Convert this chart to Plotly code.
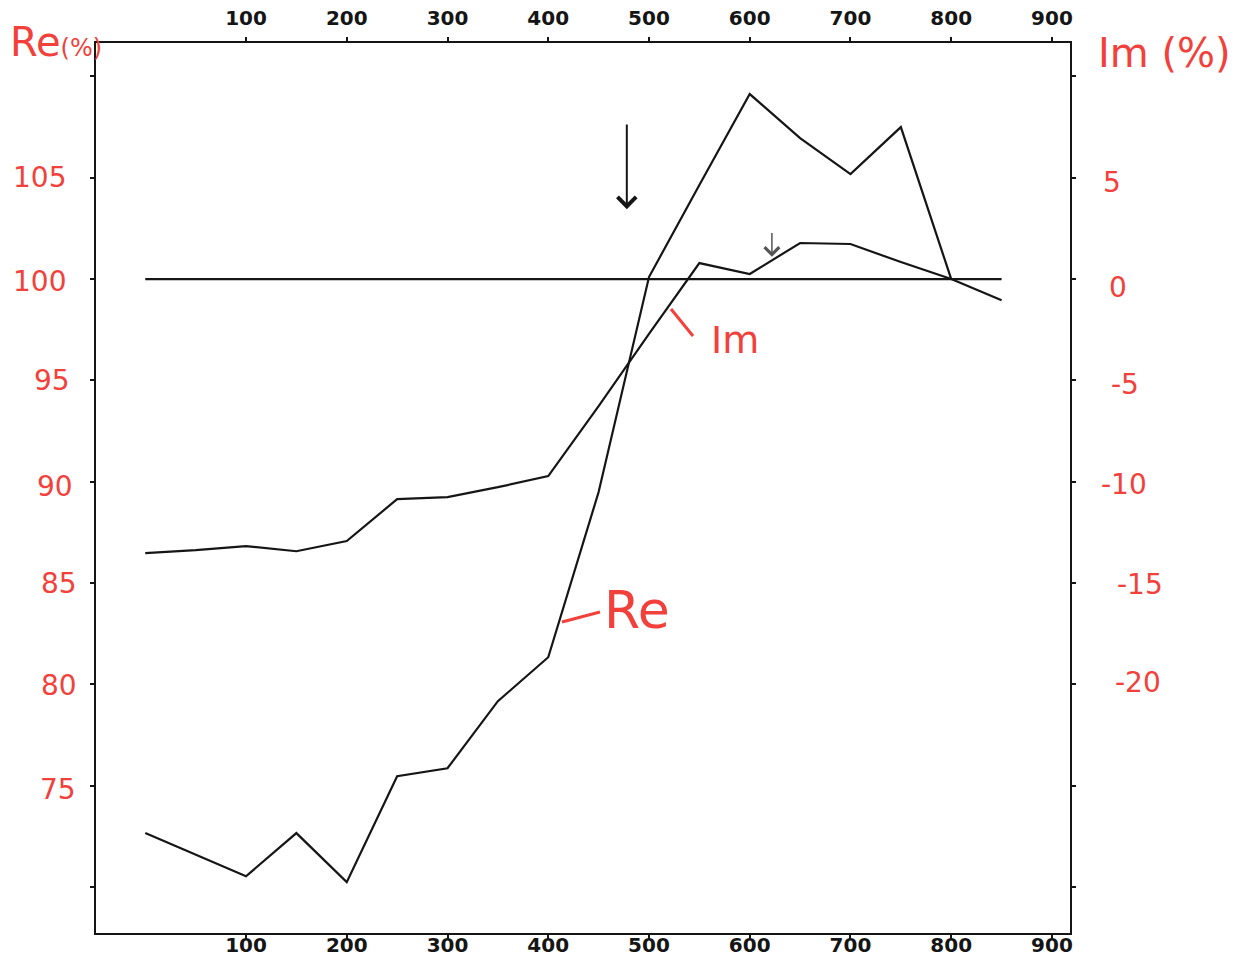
import plotly.graph_objects as go

# ---------------- data ----------------
freq = [0, 50, 100, 150, 200, 250, 300, 350, 400, 450, 500, 550, 600, 650, 700, 750, 800, 850]
re_freq = freq[:-1]
re_vals = [72.66, 71.6, 70.53, 72.66, 70.24, 75.47, 75.86, 79.17, 81.34, 89.49,
           100.1, 104.64, 109.13, 106.96, 105.18, 107.5, 100.0]
im_vals = [-13.52, -13.38, -13.18, -13.43, -12.93, -10.86, -10.76, -10.27, -9.72, -6.27,
           -2.71, 0.79, 0.25, 1.78, 1.73, 0.84, 0.0, -1.04]
ref_x = [0, 850]
ref_re = [100, 100]

x_ticks = [100, 200, 300, 400, 500, 600, 700, 800, 900]
re_ticks = [70, 75, 80, 85, 90, 95, 100, 105, 110]
im_ticks = [-30, -25, -20, -15, -10, -5, 0, 5, 10]
re_labels = ["105", "100", "95", "90", "85", "80", "75"]
re_label_vals = [105, 100, 95, 90, 85, 80, 75]
im_labels = ["5", "0", "-5", "-10", "-15", "-20"]
im_label_vals = [5, 0, -5, -10, -15, -20]

# ---------------- layout geometry ----------------
W, H = 1239, 958
L, R, T, B = 96, 1070, 43, 933
XR = [-48.9, 917.9]
YR = [67.73, 111.65]
Y2R = [YR[0] - 100, YR[1] - 100]

def px(xp):
    return (xp - L) / (R - L)

def py(yp):
    return (B - yp) / (B - T)

RED = "#f2413b"
INK = "#151515"
HAND = "DejaVu Sans"

fig = go.Figure()
fig.add_trace(go.Scatter(x=ref_x, y=ref_re, mode="lines",
                         line=dict(color=INK, width=2.2), xaxis="x", yaxis="y",
                         showlegend=False, hoverinfo="skip"))
fig.add_trace(go.Scatter(x=re_freq, y=re_vals, mode="lines", name="Re",
                         line=dict(color=INK, width=2.2), xaxis="x", yaxis="y",
                         showlegend=False))
fig.add_trace(go.Scatter(x=freq, y=im_vals, mode="lines", name="Im",
                         line=dict(color=INK, width=2.2), xaxis="x", yaxis="y2",
                         showlegend=False))
# invisible trace to activate top axis
fig.add_trace(go.Scatter(x=[XR[0]], y=[YR[0]], mode="markers", marker=dict(opacity=0),
                         xaxis="x2", yaxis="y", showlegend=False, hoverinfo="skip"))

axis_common = dict(showline=True, linecolor=INK, linewidth=2, showgrid=False,
                   zeroline=False, ticks="outside", ticklen=4, tickwidth=2,
                   tickcolor=INK, automargin=False)
tickfont = dict(family="DejaVu Sans", size=20, color=INK, weight="bold")

annotations = []
# handwritten-style axis labels (left)
left_x = [39, 39, 52, 55, 59, 59, 58]
left_dy = [0, 2, 0, 5, 0, 1, 4]
for lab, v, xp, dy in zip(re_labels, re_label_vals, left_x, left_dy):
    annotations.append(dict(text=lab, x=px(xp), xref="paper", y=v, yref="y",
                            yshift=-dy, showarrow=False, xanchor="center", yanchor="middle",
                            font=dict(family=HAND, size=28, color=RED)))
right_x = [1112, 1118, 1125, 1124, 1140, 1138]
right_dy = [5, 8, 4, 3, 1, -2]
for lab, v, xp, dy in zip(im_labels, im_label_vals, right_x, right_dy):
    annotations.append(dict(text=lab, x=px(xp), xref="paper", y=v, yref="y2",
                            yshift=-dy, showarrow=False, xanchor="center", yanchor="middle",
                            font=dict(family=HAND, size=28, color=RED)))

annotations += [
    dict(text="Re<span style='font-size:24px'>(%)</span>", x=px(8), y=py(42),
         xref="paper", yref="paper", xanchor="left", yanchor="middle", showarrow=False,
         font=dict(family=HAND, size=40, color=RED)),
    dict(text="Im (%)", x=px(1164), y=py(53), xref="paper", yref="paper",
         xanchor="center", yanchor="middle", showarrow=False,
         font=dict(family=HAND, size=40, color=RED)),
    dict(text="Im", x=px(735), y=py(340), xref="paper", yref="paper",
         xanchor="center", yanchor="middle", showarrow=False,
         font=dict(family=HAND, size=38, color=RED)),
    dict(text="Re", x=px(637), y=py(610), xref="paper", yref="paper",
         xanchor="center", yanchor="middle", showarrow=False,
         font=dict(family=HAND, size=52, color=RED)),
    # black arrow
    dict(x=478, y=103.45, ax=478, ay=107.7, xref="x", yref="y", axref="x", ayref="y",
         text="", showarrow=True, arrowhead=4, arrowsize=1.8, arrowwidth=2,
         arrowcolor=INK),
    # small grey arrow
    dict(x=622, y=101.1, ax=622, ay=102.35, xref="x", yref="y", axref="x", ayref="y",
         text="", showarrow=True, arrowhead=4, arrowsize=1.9, arrowwidth=1.5,
         arrowcolor="#555555"),
]

shapes = [
    dict(type="line", xref="paper", yref="paper", x0=px(671), y0=py(309),
         x1=px(693), y1=py(336), line=dict(color=RED, width=3)),
    dict(type="line", xref="paper", yref="paper", x0=px(562), y0=py(622),
         x1=px(600), y1=py(612), line=dict(color=RED, width=3)),
]

fig.update_layout(
    width=W, height=H,
    margin=dict(l=L, r=W - R, t=T, b=H - B, pad=0, autoexpand=False),
    paper_bgcolor="white", plot_bgcolor="white",
    xaxis=dict(range=XR, tickvals=x_ticks, side="bottom", tickfont=tickfont,
               ticklabelstandoff=-11, **axis_common),
    xaxis2=dict(range=XR, tickvals=x_ticks, side="top", overlaying="x",
                tickfont=tickfont, ticklabelstandoff=4, **axis_common),
    yaxis=dict(range=YR, tickvals=re_ticks, showticklabels=False, side="left",
               **axis_common),
    yaxis2=dict(range=Y2R, tickvals=im_ticks, showticklabels=False, side="right",
                overlaying="y", **axis_common),
    annotations=annotations,
    shapes=shapes,
    showlegend=False,
)

fig.write_html(
    "out.html",
    config={"displayModeBar": False},
    post_script="document.body.style.margin='0';document.body.style.overflow='hidden';",
)
